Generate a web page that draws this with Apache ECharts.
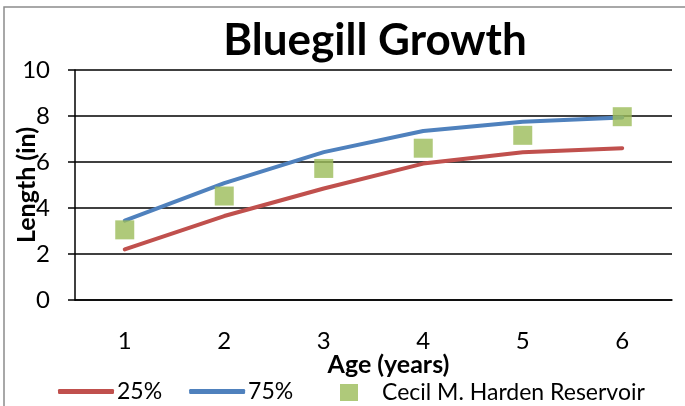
<!DOCTYPE html>
<html>
<head>
<meta charset="utf-8">
<script src="https://cdn.jsdelivr.net/npm/echarts@6/dist/echarts.min.js"></script>
<style>
html, body { margin: 0; padding: 0; background: #fff; }
#main { width: 685px; height: 406px; }
</style>
</head>
<body>
<div id="main"></div>
<script>
var ages = ["1", "2", "3", "4", "5", "6"];
var p25 = [2.2, 3.65, 4.85, 5.93, 6.42, 6.6];
var p75 = [3.45, 5.08, 6.43, 7.35, 7.75, 7.93];
var cecil = [3.05, 4.52, 5.72, 6.6, 7.16, 7.97];
var yTicks = [0, 2, 4, 6, 8, 10];

var font = "Lato, 'Open Sans', sans-serif";

var chart = echarts.init(document.getElementById("main"));
chart.setOption({
    animation: false,
    textStyle: { fontFamily: font },
    title: {
        text: "Bluegill Growth",
        left: 370,
        textAlign: "center",
        top: 14,
        textStyle: { fontSize: 44, fontWeight: "bold", color: "#000", fontFamily: font }
    },
    graphic: [{
        type: "rect",
        shape: { x: 4, y: 7, width: 720, height: 440 },
        style: { fill: "none", stroke: "#8c8c8c", lineWidth: 1.5 },
        silent: true
    }],
    grid: { left: 75, right: 13, top: 70, bottom: 106, containLabel: false, outerBoundsMode: "none" },
    legend: [{
        data: ["25%", "75%"],
        left: 53,
        top: 375,
        icon: "roundRect",
        itemWidth: 56,
        itemHeight: 5,
        itemGap: 27,
        textStyle: { fontSize: 23, color: "#000", fontFamily: font, padding: [0, 0, 0, -2] }
    }, {
        data: ["Cecil M. Harden Reservoir"],
        left: 335,
        top: 376,
        icon: "rect",
        itemWidth: 18,
        itemHeight: 17,
        textStyle: { fontSize: 23, color: "#000", fontFamily: font, padding: [0, 0, 0, 19] }
    }],
    xAxis: {
        type: "category",
        data: ages,
        name: "Age (years)",
        nameLocation: "middle",
        nameGap: 52,
        nameMoveOverlap: false,
        nameTextStyle: { fontSize: 25, fontWeight: "bold", color: "#000", fontFamily: font, padding: [0, 0, 0, 30] },
        axisLine: { lineStyle: { color: "#000", width: 1.5 } },
        axisTick: { alignWithLabel: true, length: 6, lineStyle: { color: "#000", width: 1.5 } },
        axisLabel: { fontSize: 24, color: "#000", margin: 29, fontFamily: font },
        splitLine: { show: false }
    },
    yAxis: {
        type: "value",
        min: yTicks[0],
        max: yTicks[yTicks.length - 1],
        interval: 2,
        name: "Length (in)",
        nameLocation: "middle",
        nameRotate: 90,
        nameGap: 36,
        nameMoveOverlap: false,
        nameTextStyle: { fontSize: 25, fontWeight: "bold", color: "#000", fontFamily: font },
        axisLine: { show: true, lineStyle: { color: "#000", width: 1.5 } },
        axisTick: { show: true, length: 7, lineStyle: { color: "#000", width: 1.5 } },
        axisLabel: { fontSize: 24, color: "#000", margin: 25, fontFamily: font },
        splitLine: { show: true, lineStyle: { color: "#000", width: 1.5 } }
    },
    series: [{
        name: "25%",
        type: "line",
        data: p25,
        showSymbol: false,
        symbol: "none",
        lineStyle: { color: "#C0504D", width: 4, cap: "round" },
        itemStyle: { color: "#C0504D" },
        z: 2
    }, {
        name: "75%",
        type: "line",
        data: p75,
        showSymbol: false,
        symbol: "none",
        lineStyle: { color: "#4F81BD", width: 4, cap: "round" },
        itemStyle: { color: "#4F81BD" },
        z: 3
    }, {
        name: "Cecil M. Harden Reservoir",
        type: "scatter",
        data: cecil,
        symbol: "rect",
        symbolSize: 19,
        itemStyle: { color: "#9BBB59" },
        z: 4
    }]
});
</script>
</body>
</html>
